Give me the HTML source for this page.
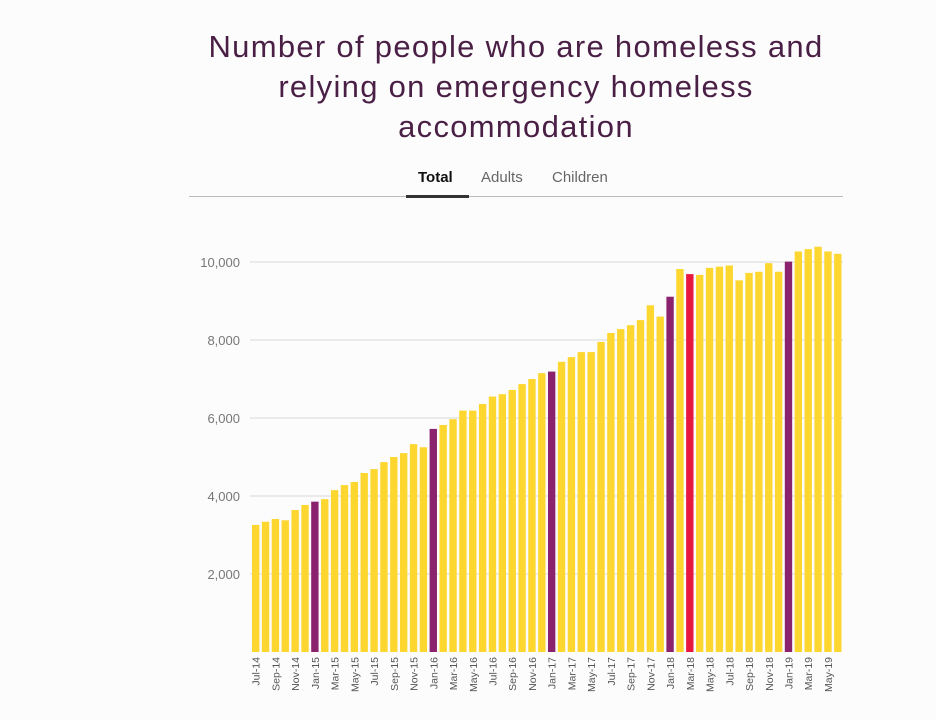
<!DOCTYPE html>
<html><head><meta charset="utf-8"><style>
body{margin:0;background:#fcfcfc;font-family:"Liberation Sans",sans-serif;}
#wrap{position:relative;width:936px;height:720px;overflow:hidden;background:#fcfcfc;}
h1{position:absolute;left:186px;width:660px;top:27px;margin:0;text-align:center;font-weight:normal;font-size:31px;letter-spacing:1.3px;line-height:40px;color:#4a1f45;}
.tab{position:absolute;top:169px;font-size:15px;color:#666;}
</style></head><body>
<div id="wrap">
<h1>Number of people who are homeless and<br>relying on emergency homeless<br>accommodation</h1>
<div class="tab" style="left:418px;color:#111;font-weight:bold">Total</div>
<div class="tab" style="left:481px">Adults</div>
<div class="tab" style="left:552px">Children</div>
<div style="position:absolute;left:189px;top:196px;width:654px;height:1px;background:#bbb"></div>
<div style="position:absolute;left:406px;top:195px;width:63px;height:3px;background:#333"></div>
<svg id="chart" width="936" height="720" style="position:absolute;left:0;top:0"></svg>
</div>
<script>
const months=["Jan","Feb","Mar","Apr","May","Jun","Jul","Aug","Sep","Oct","Nov","Dec"];
const values=[3258,3340,3410,3377,3640,3770,3855,3920,4150,4280,4360,4590,4690,4870,5000,5100,5330,5250,5720,5820,5970,6190,6190,6360,6550,6610,6720,6870,7000,7150,7190,7440,7560,7690,7690,7950,8180,8280,8380,8510,8890,8600,9110,9820,9690,9670,9850,9880,9910,9530,9720,9750,9970,9750,10010,10270,10330,10390,10270,10210];
const yTicks=[2000,4000,6000,8000,10000];
const highlightPurple=[6,18,30,42,54];
const highlightRed=[44];
const categories=values.map((v,i)=>months[(6+i)%12]+"-"+(14+Math.floor((6+i)/12)));
const svg=document.getElementById('chart');
const NS="http://www.w3.org/2000/svg";
const x0=251,x1=843,yBase=652,yScale=v=>yBase-v*0.039;
const pitch=(x1-x0)/values.length;
const xPos=i=>x0+i*pitch;
yTicks.forEach(t=>{
  const l=document.createElementNS(NS,'line');
  l.setAttribute('x1',250);l.setAttribute('x2',843);l.setAttribute('y1',yScale(t));l.setAttribute('y2',yScale(t));
  l.setAttribute('stroke','#d8d8d8');l.setAttribute('stroke-width','1');
  
  
  svg.appendChild(l);
  const tx=document.createElementNS(NS,'text');
  tx.setAttribute('x',240);tx.setAttribute('y',yScale(t)+5);tx.setAttribute('text-anchor','end');
  tx.setAttribute('font-size','13');tx.setAttribute('fill','#777');tx.setAttribute('font-family','Liberation Sans, sans-serif');
  tx.textContent=t.toLocaleString('en-US');
  
  
  svg.appendChild(tx);
});
values.forEach((v,i)=>{
  const r=document.createElementNS(NS,'rect');
  const bx=xPos(i)+1,y=yScale(v);
  r.setAttribute('x',bx);r.setAttribute('y',y);r.setAttribute('width',pitch-2.5);r.setAttribute('height',yBase-y);
  let c='#fdd72f';
  if(highlightPurple.includes(i))c='#8b226e';
  if(highlightRed.includes(i))c='#e8173f';
  r.setAttribute('fill',c);
  
  
  svg.appendChild(r);
  if(i%2===0){
    const tx=document.createElementNS(NS,'text');
    const cx=bx+(pitch-2.5)/2+4;
    tx.setAttribute('transform','translate('+cx+',657) rotate(-90)');
    tx.setAttribute('text-anchor','end');
    tx.setAttribute('font-size','10.5');tx.setAttribute('fill','#555');tx.setAttribute('font-family','Liberation Sans, sans-serif');
    tx.textContent=categories[i];
    
    
    svg.appendChild(tx);
  }
});
</script>
</body></html>
